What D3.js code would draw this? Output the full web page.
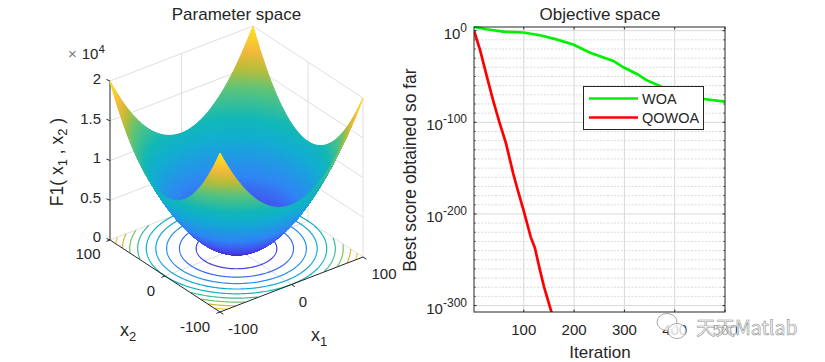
<!DOCTYPE html>
<html><head><meta charset="utf-8">
<script src="https://cdnjs.cloudflare.com/ajax/libs/d3/7.8.5/d3.min.js"></script>
<style>html,body{margin:0;padding:0;background:#fff}svg{display:block}text{font-family:"Liberation Sans",Arial,sans-serif;fill:#262626}</style>
</head><body><svg id="c" width="825" height="362"></svg>
<script>
// ---- data ----
const woaIter = [1,26,59,99,132,165,198,232,278,298,324,344,377,404,450,500];
const woaExp  = [4,1.5,-1,-2,-5,-9.5,-15,-24,-33,-40,-47,-54,-62,-67,-74,-77.5];
const qowoaIter = [1,13,27.5,39,51,64.6,79,87,100,113.7,122,132,140,149,155.5];
const qowoaExp  = [0,-21,-52,-76,-99,-123,-156,-172,-197,-225,-237,-261,-279,-296,-308];
const seriesNames = ["WOA","QOWOA"];
const iterTicks = [100,200,300,400,500];
const expTicks = [0,-100,-200,-300];
const zTicks = [0,0.5,1,1.5,2];
const zTickLabels = ["0","0.5","1","1.5","2"];
const xyTicks = [-100,0,100];
const contourLevels = [2000,4000,6000,8000,10000,12000,14000,16000,18000];
const gridX = d3.range(-100,100.01,2);
const parulaStops = [0,.125,.25,.42,.52,.67,.77,.865,1];
const parulaColors = ["#3e26a8","#4748f0","#2f86f5","#12add3","#10b8b8","#5cc47a","#b9bd3a","#f5b93a","#fde81f"];

const svg = d3.select("#c");
const ink = "#262626", gridc = "#dfdfdf";
const color = d3.scaleLinear().domain(parulaStops.map(d=>d*20000)).range(parulaColors).interpolate(d3.interpolateRgb);

// ---- left: 3D projection built of linear scales ----
const x1sx = d3.scaleLinear().domain([-100,100]).range([-71.5,71.5]);
const x1sy = d3.scaleLinear().domain([-100,100]).range([27.5,-27.5]);
const x2sx = d3.scaleLinear().domain([-100,100]).range([55,-55]);
const x2sy = d3.scaleLinear().domain([-100,100]).range([36,-36]);
const zs = d3.scaleLinear().domain([0,20000]).range([0,-159]);
const P = (a,b,z=0)=>[236.5+x1sx(a)+x2sx(b), 248.5+x1sy(a)+x2sy(b)+zs(z)];
const L = d3.line();
const seg=(g,a,b,st,w=1)=>g.append("path").attr("d",L([a,b])).attr("fill","none").attr("stroke",st).attr("stroke-width",w);

const g3 = svg.append("g");
const zv = zTicks.map(d=>d*1e4);
// back walls and floor grid
zv.forEach(z=>{ seg(g3,P(-100,100,z),P(100,100,z),gridc); seg(g3,P(100,100,z),P(100,-100,z),gridc); });
seg(g3,P(100,100,0),P(100,100,20000),gridc);
seg(g3,P(100,-100,0),P(100,-100,20000),gridc);
seg(g3,P(0,100,0),P(0,100,20000),gridc);
seg(g3,P(100,0,0),P(100,0,20000),gridc);
seg(g3,P(0,100,0),P(0,-100,0),gridc);
seg(g3,P(-100,0,0),P(100,0,0),gridc);

// base contours
const theta = d3.range(0,361,1).map(d=>d*Math.PI/180);
contourLevels.forEach(lv=>{
  const r=Math.sqrt(lv);
  const pts=theta.map(t=>[r*Math.cos(t),r*Math.sin(t)]);
  const ln=d3.line().defined(p=>Math.abs(p[0])<=100&&Math.abs(p[1])<=100)
    .x(p=>P(p[0],p[1])[0]).y(p=>P(p[0],p[1])[1]);
  g3.append("path").attr("d",ln(pts)).attr("fill","none").attr("stroke",color(lv)).attr("stroke-width",1.2);
});

// axes
seg(g3,P(-100,100,0),P(-100,100,20000),ink);
seg(g3,P(-100,100,0),P(-100,-100,0),ink);
seg(g3,P(-100,-100,0),P(100,-100,0),ink);
zv.forEach(z=>{const p=P(-100,100,z); seg(g3,p,[p[0]-3.5,p[1]-1.5],ink);});
xyTicks.forEach(t=>{
  const a=P(t,-100), b=P(-100,t);
  seg(g3,a,[a[0]+3.3,a[1]+2.2],ink); // x1 ticks
  seg(g3,b,[b[0]-3.6,b[1]+1.4],ink); // x2 ticks
});

// surface, painted from the far corner to the near one
const gs = svg.append("g");
const asc = gridX.slice(0,-1).reverse();
const step = 2, F=(a,b)=>a*a+b*b;
asc.forEach(a=>asc.forEach(b=>{
  const q=[P(a,b,F(a,b)),P(a+step,b,F(a+step,b)),P(a+step,b+step,F(a+step,b+step)),P(a,b+step,F(a,b+step))];
  const c=color(F(a+step/2,b+step/2));
  gs.append("path").attr("d",L(q)+"Z").attr("fill",c).attr("stroke",c).attr("stroke-width",1).attr("stroke-linejoin","round");
}));

// left text
const T=(x,y,s,size,anchor="middle",par=svg)=>par.append("text").attr("x",x).attr("y",y).attr("font-size",size).attr("text-anchor",anchor).text(s);
T(236.5,20,"Parameter space",17);
zTicks.forEach((d,i)=>T(101,[236,197,157,118,78][i]+5.5,zTickLabels[i],15,"end"));
[["100",88,259],["0",151,296],["-100",195,332]].forEach(d=>T(d[1],d[2],d[0],15));
[["-100",243,334],["0",303,307],["100",384,279]].forEach(d=>T(d[1],d[2],d[0],15));
const sub=(x,y,a,b,size)=>{const t=svg.append("text").attr("x",x).attr("y",y).attr("font-size",size).attr("text-anchor","middle");
  t.append("tspan").text(a); t.append("tspan").attr("font-size",size*.72).attr("dy",5).text(b); return t;};
sub(128,336,"x","2",18);
sub(319,341,"x","1",18);
const ex=svg.append("text").attr("x",68).attr("y",59).attr("font-size",15);
ex.append("tspan").style("fill","#777").attr("font-size",15).text("×");
ex.append("tspan").attr("dx",5).text("10"); ex.append("tspan").attr("font-size",11.5).attr("dy",-6).text("4");
const yl=svg.append("text").attr("transform","translate(63,162) rotate(-90)").attr("text-anchor","middle").attr("font-size",17.5);
yl.append("tspan").text("F1( x");
yl.append("tspan").attr("font-size",13).attr("dy",4).text("1");
yl.append("tspan").attr("dy",-4).text(" , x");
yl.append("tspan").attr("font-size",13).attr("dy",4).text("2");
yl.append("tspan").attr("dy",-4).text(" )");

// ---- right: convergence plot ----
const m={l:474,r:725,t:27,b:312};
const X=d3.scaleLinear().domain([1,500]).range([m.l,m.r]);
const Y=d3.scaleLog().domain([1e-307,1e4]).range([m.b,m.t]);
const YE=e=>Y(Math.pow(10,e));
const gp=svg.append("g");
const dec=d3.range(0,-301,-10);
dec.filter(e=>e%100!==0).forEach(e=>{
  gp.append("line").attr("x1",m.l).attr("x2",m.r).attr("y1",YE(e)).attr("y2",YE(e)).attr("stroke","#d2d2d2").attr("stroke-width",.8).attr("stroke-dasharray","2 1.5");
  gp.append("line").attr("x1",m.l).attr("x2",m.l+2).attr("y1",YE(e)).attr("y2",YE(e)).attr("stroke",ink).attr("stroke-width",.6);
  gp.append("line").attr("x1",m.r).attr("x2",m.r-2).attr("y1",YE(e)).attr("y2",YE(e)).attr("stroke",ink).attr("stroke-width",.6);
});
expTicks.forEach(e=>gp.append("line").attr("x1",m.l).attr("x2",m.r).attr("y1",YE(e)).attr("y2",YE(e)).attr("stroke","#d8d8d8"));
iterTicks.slice(0,-1).forEach(i=>gp.append("line").attr("x1",X(i)).attr("x2",X(i)).attr("y1",m.t).attr("y2",m.b).attr("stroke","#d8d8d8"));

svg.append("clipPath").attr("id","pc").append("rect").attr("x",m.l).attr("y",m.t-1).attr("width",m.r-m.l).attr("height",m.b-m.t+1);
const lin=d3.line().x(d=>X(d[0])).y(d=>YE(d[1]));
const gl=svg.append("g").attr("clip-path","url(#pc)");
gl.append("path").attr("d",lin(d3.zip(woaIter,woaExp))).attr("fill","none").attr("stroke","#00f000").attr("stroke-width",2.7);
gl.append("path").attr("d",lin(d3.zip(qowoaIter,qowoaExp))).attr("fill","none").attr("stroke","#ff0000").attr("stroke-width",2.7);

svg.append("rect").attr("x",m.l).attr("y",m.t).attr("width",m.r-m.l).attr("height",m.b-m.t).attr("fill","none").attr("stroke",ink).attr("stroke-width",1);
iterTicks.forEach(i=>{
  svg.append("line").attr("x1",X(i)).attr("x2",X(i)).attr("y1",m.b).attr("y2",m.b-2.5).attr("stroke",ink);
  svg.append("line").attr("x1",X(i)).attr("x2",X(i)).attr("y1",m.t).attr("y2",m.t+2.5).attr("stroke",ink);
  T(X(i),335,String(i),15);
});
expTicks.forEach(e=>{
  const t=svg.append("text").attr("x",467).attr("y",YE(e)+8).attr("font-size",15).attr("text-anchor","end");
  t.append("tspan").text("10");
  t.append("tspan").attr("font-size",12).attr("dy",-7).text(String(e));
  svg.append("line").attr("x1",m.l).attr("x2",m.l+2.5).attr("y1",YE(e)).attr("y2",YE(e)).attr("stroke",ink);
  svg.append("line").attr("x1",m.r).attr("x2",m.r-2.5).attr("y1",YE(e)).attr("y2",YE(e)).attr("stroke",ink);
});
T(600,20,"Objective space",17);
T(600,358,"Iteration",17);
svg.append("text").attr("transform","translate(416,170) rotate(-90)").attr("text-anchor","middle").attr("font-size",17.5).text("Best score obtained so far");

// legend
const lg=svg.append("g");
lg.append("rect").attr("x",583.5).attr("y",86.5).attr("width",120).attr("height",43).attr("fill","#fff").attr("stroke",ink);
[["#00f000",98.5],["#ff0000",117.5]].forEach((d,i)=>{
  lg.append("line").attr("x1",589).attr("x2",638).attr("y1",d[1]).attr("y2",d[1]).attr("stroke",d[0]).attr("stroke-width",2.7);
  T(642,d[1]+5,seriesNames[i],14.5,"start",lg);
});

// watermark
const wm=svg.append("g").attr("fill","none").attr("stroke","#a0a0a0").attr("stroke-width",.9);
wm.append("ellipse").attr("cx",667).attr("cy",322).attr("rx",10).attr("ry",8.5).attr("fill","#fff").attr("fill-opacity",.8);
wm.append("ellipse").attr("cx",677).attr("cy",331).attr("rx",9).attr("ry",7.5).attr("fill","#fff").attr("fill-opacity",.8);
svg.append("rect").attr("x",696).attr("y",318).attr("width",40).attr("height",20).attr("fill","#fff").attr("fill-opacity",.65);
svg.append("text").attr("x",696).attr("y",335).attr("font-size",19.5).style("font-family","'Noto Sans CJK SC','Liberation Sans',sans-serif")
  .style("fill","#ffffff").style("fill-opacity",.35).attr("stroke","#8f8f8f").attr("stroke-width",.6).text("天天Matlab");
</script></body></html>
